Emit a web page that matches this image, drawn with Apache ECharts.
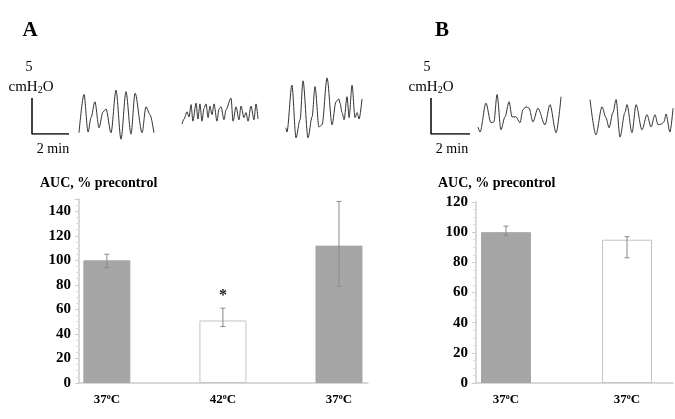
<!DOCTYPE html>
<html>
    <head>
        <meta charset="utf-8">
        <title></title>
        <style>
            html, body{ margin: 0; padding: 0; background: #fff; }
            #div{ width: 675px; height: 419px; }
        </style>
    </head>
    <body>
        <div id="div"></div>
        <script src="https://cdn.jsdelivr.net/npm/echarts@6/dist/echarts.min.js"></script>
        <script>
            // pressure traces: [time (min), pressure (cmH2O)]
            var traceA1 = [[0,1.0],[0.27,6.3],[0.49,1.1],[0.65,3.1],[0.86,5.3],[1.08,1.7],[1.30,3.9],[1.46,4.3],[1.73,1.0],[2.00,6.9],[2.27,0.1],[2.54,6.7],[2.81,0.8],[3.03,6.5],[3.41,1.0],[3.62,4.6],[3.84,3.5],[4.05,1.0]];
            var traceA2 = [[0,2.2],[0.11,2.9],[0.27,3.9],[0.38,3.2],[0.49,4.9],[0.59,2.6],[0.76,5.1],[0.86,2.9],[0.97,5.0],[1.08,2.6],[1.19,4.4],[1.30,5.0],[1.41,3.1],[1.51,4.7],[1.62,3.5],[1.73,5.0],[1.89,2.6],[2.00,4.3],[2.11,4.6],[2.27,2.8],[2.38,4.2],[2.65,5.8],[2.76,2.6],[2.92,4.6],[3.08,2.8],[3.19,4.7],[3.35,3.1],[3.46,3.8],[3.57,2.6],[3.73,4.7],[3.89,2.8],[4.00,5.0],[4.11,2.9]];
            var traceA3 = [[0,1.7],[0.05,1.1],[0.32,7.6],[0.54,0.3],[0.76,2.8],[0.92,8.2],[1.19,0.3],[1.41,3.2],[1.57,7.4],[1.78,1.8],[1.95,2.1],[2.22,8.6],[2.49,2.1],[2.70,5.3],[2.86,5.7],[2.92,5.1],[3.03,3.8],[3.14,2.8],[3.30,6.0],[3.41,3.1],[3.57,7.6],[3.73,3.1],[3.84,3.8],[3.95,2.9],[4.11,5.7]];
            var traceB1 = [[0,1.8],[0.11,1.1],[0.43,5.1],[0.70,2.4],[0.86,2.5],[1.03,6.3],[1.24,1.4],[1.46,3.2],[1.68,5.3],[1.84,3.2],[2.05,3.2],[2.27,2.4],[2.43,4.2],[2.59,4.6],[2.76,4.4],[2.97,2.5],[3.24,4.4],[3.62,2.1],[3.89,4.9],[4.22,1.0],[4.49,6.0]];
            var traceB2 = [[0,5.6],[0.32,0.7],[0.65,4.6],[0.86,3.1],[1.03,1.7],[1.24,3.8],[1.41,5.6],[1.62,0.4],[1.89,3.8],[2.00,4.9],[2.27,1.0],[2.49,4.9],[2.81,1.4],[3.08,3.5],[3.30,1.8],[3.51,3.5],[3.68,2.1],[3.84,2.2],[4.00,2.5],[4.11,3.6],[4.32,1.1],[4.49,4.4]];
            // scale bar: 5 cmH2O by 2 min
            var scaleBar = [[0,5],[0,0],[2,0]];

            // AUC, % precontrol
            var catsA = ['37', '42', '37'];
            var meanA = [100, 51, 112];
            var lowA = [94, 46, 79];
            var highA = [105, 61, 148];
            var sigA = ['', '*', ''];
            var catsB = ['37', '37'];
            var meanB = [100, 95];
            var lowB = [98, 83];
            var highB = [104, 97];
            var sigB = ['', ''];

            var fillA = ['#a6a6a6', '#ffffff', '#a6a6a6'];
            var fillB = ['#a6a6a6', '#ffffff'];
            var serif = 'Liberation Serif';

            var grids = [], xAxes = [], yAxes = [], series = [];

            function addTrace(data, left){
                var i = grids.length;
                grids.push({left: left, top: 70, width: 83.25, height: 75});
                xAxes.push({gridIndex: i, type: 'value', min: 0, max: 4.5, show: false});
                yAxes.push({gridIndex: i, type: 'value', min: -0.7, max: 9.7, show: false});
                series.push({type: 'line', xAxisIndex: i, yAxisIndex: i, data: data, showSymbol: false,
                    smooth: 0.3, smoothMonotone: 'x', lineStyle: {color: '#333', width: 1}, silent: true});
            }
            function addScale(left, width){
                var i = grids.length;
                grids.push({left: left, top: 98, width: width, height: 36});
                xAxes.push({gridIndex: i, type: 'value', min: 0, max: 2, show: false});
                yAxes.push({gridIndex: i, type: 'value', min: 0, max: 5, show: false});
                series.push({type: 'line', xAxisIndex: i, yAxisIndex: i, data: scaleBar, showSymbol: false,
                    lineStyle: {color: '#000', width: 1.5}, silent: true});
            }
            function addBars(cats, mean, low, high, sig, fills, g, ymax, showMax){
                var i = grids.length;
                grids.push({left: g.left, top: g.top, width: g.width, height: g.height});
                xAxes.push({gridIndex: i, type: 'value', min: g.xmin, max: g.xmax,
                    splitLine: {show: false}, axisTick: {show: false},
                    axisLine: {show: true, lineStyle: {color: '#cccccc', width: 1.5}},
                    axisLabel: {customValues: cats.map(function(c, k){ return k + 1; }), margin: 10,
                        formatter: function(v){ return '{a|' + cats[Math.round(v) - 1] + '}{s|o}{a|C}'; },
                        rich: {
                            a: {fontFamily: serif, fontWeight: 'bold', fontSize: 13, color: '#000'},
                            s: {fontFamily: serif, fontWeight: 'bold', fontSize: 8, color: '#000', verticalAlign: 'top', padding: [0, 0, 6, 0]}
                        }}
                });
                yAxes.push({gridIndex: i, type: 'value', min: 0, max: ymax, interval: 20,
                    splitLine: {show: false},
                    axisLine: {show: true, lineStyle: {color: '#cccccc', width: 1.5}},
                    axisTick: {show: true, length: 4, lineStyle: {color: '#cccccc'}},
                    minorTick: {show: true, splitNumber: 4, length: 3, lineStyle: {color: '#dddddd'}},
                    axisLabel: {showMaxLabel: showMax, margin: 8, fontFamily: serif, fontWeight: 'bold', fontSize: 15, color: '#000'}
                });
                series.push({type: 'bar', xAxisIndex: i, yAxisIndex: i, barWidth: g.barWidth, silent: true,
                    data: mean.map(function(v, k){
                        return {value: [k + 1, v], itemStyle: {color: fills[k], borderColor: fills[k] === '#ffffff' ? '#c4c4c4' : fills[k], borderWidth: 1}};
                    })
                });
                series.push({type: 'custom', xAxisIndex: i, yAxisIndex: i, silent: true, z: 5,
                    data: mean.map(function(v, k){ return [k + 1, low[k], high[k]]; }),
                    renderItem: function(params, api){
                        var x = api.value(0);
                        var lo = api.coord([x, api.value(1)]);
                        var hi = api.coord([x, api.value(2)]);
                        var st = {stroke: '#8a8a8a', lineWidth: 1};
                        var kids = [
                            {type: 'line', shape: {x1: lo[0], y1: lo[1], x2: hi[0], y2: hi[1]}, style: st},
                            {type: 'line', shape: {x1: lo[0] - 2.5, y1: lo[1], x2: lo[0] + 2.5, y2: lo[1]}, style: st},
                            {type: 'line', shape: {x1: hi[0] - 2.5, y1: hi[1], x2: hi[0] + 2.5, y2: hi[1]}, style: st}
                        ];
                        if (sig[params.dataIndex]) {
                            kids.push({type: 'text', style: {text: sig[params.dataIndex], x: hi[0], y: hi[1] - 12,
                                align: 'center', verticalAlign: 'middle', font: 'bold 16px ' + serif, fill: '#222'}});
                        }
                        return {type: 'group', children: kids};
                    }
                });
            }

            addTrace(traceA1, 79);
            addTrace(traceA2, 182);
            addTrace(traceA3, 286);
            addTrace(traceB1, 478);
            addTrace(traceB2, 590);
            addScale(32, 37);
            addScale(431, 39);
            addBars(catsA, meanA, lowA, highA, sigA, fillA,
                {left: 79, top: 199, width: 289, height: 184, xmin: 0.76, xmax: 3.25, barWidth: 47}, 150, false);
            addBars(catsB, meanB, lowB, highB, sigB, fillB,
                {left: 476, top: 202, width: 197, height: 181, xmin: 0.752, xmax: 2.38, barWidth: 50}, 120, true);

            function txt(s, x, y, font, align){
                return {type: 'text', x: x, y: y, style: {text: s, font: font, fill: '#000', align: align || 'center', verticalAlign: 'middle'}};
            }
            function unit(x, y){
                return {type: 'text', x: x, y: y, style: {text: '{a|cmH}{s|2}{a|O}', align: 'center', verticalAlign: 'middle',
                    rich: {a: {fontFamily: serif, fontSize: 15, fill: '#000'}, s: {fontFamily: serif, fontSize: 10, fill: '#000', padding: [6, 0, 0, 0]}}}};
            }

            var chartDom=document.getElementById('div');
            var myChart=echarts.init(chartDom);
            var option;

            option = {
                animation: false,
                backgroundColor: '#fff',
                grid: grids,
                xAxis: xAxes,
                yAxis: yAxes,
                series: series,
                graphic: [
                    txt('A', 30, 31, 'bold 21px ' + serif),
                    txt('B', 442, 31, 'bold 21px ' + serif),
                    txt('5', 29, 67, '14px ' + serif),
                    unit(31, 87),
                    txt('2 min', 53, 149, '14px ' + serif),
                    txt('5', 427, 67, '14px ' + serif),
                    unit(431, 87),
                    txt('2 min', 452, 149, '14px ' + serif),
                    txt('AUC, % precontrol', 40, 183, 'bold 14px ' + serif, 'left'),
                    txt('AUC, % precontrol', 438, 183, 'bold 14px ' + serif, 'left')
                ]
            };

            option && myChart.setOption(option);
        </script>
    </body>
</html>
